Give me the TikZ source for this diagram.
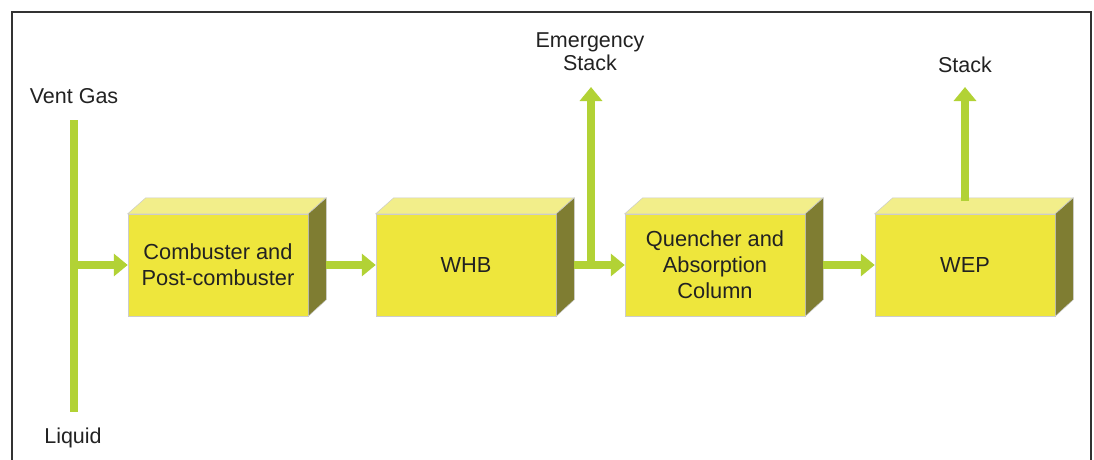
\documentclass[tikz,border=0pt]{standalone}
\usepackage{fontspec}
\setmainfont{Liberation Sans}
\usetikzlibrary{arrows.meta,calc}
\definecolor{pipe}{HTML}{B2D235}
\definecolor{boxfront}{HTML}{EEE63C}
\definecolor{boxtop}{HTML}{F2EE8A}
\definecolor{boxside}{HTML}{7F7D32}
\definecolor{ink}{HTML}{222222}
\definecolor{frame}{HTML}{333333}

% a process unit drawn as a block: front face node plus top and side faces
\newcommand\drawunit[3]{%
  \node[unit] (#1) at (#2) {#3};
  \filldraw[fill=boxtop, draw=black!20, line width=0.5pt]
    (#1.north west) -- ++(18,-16) -- ++(180,0) -- (#1.north east) -- cycle;
  \filldraw[fill=boxside, draw=black!20, line width=0.5pt]
    (#1.north east) -- ++(18,-16) -- ++(0,102) -- (#1.south east) -- cycle;
}

\begin{document}
\begin{tikzpicture}[x=1pt,y=-1pt,
  unit/.style={rectangle, fill=boxfront, draw=black!20, line width=0.5pt,
    minimum width=180pt, minimum height=102pt, inner sep=0pt, align=center,
    font=\fontsize{21.8}{26}\selectfont, text=ink},
  flow/.style={draw=pipe, line width=8.5pt, -{Triangle[width=22pt,length=14pt]}},
  pipeline/.style={draw=pipe, line width=8.5pt},
  lbl/.style={font=\fontsize{21.5}{23}\selectfont, text=ink, align=center, inner sep=0pt}]

\useasboundingbox (0,0) rectangle (1094,460);
\fill[white] (0,0) rectangle (1094,460);
\draw[frame, line width=1.3pt] (12,460) -- (12,12) -- (1091,12) -- (1091,460);

% process units
\drawunit{b1}{218,265}{Combuster and\\Post-combuster}
\drawunit{b2}{466,265}{WHB}
\drawunit{b3}{715,265}{Quencher and\\Absorption\\Column}
\drawunit{b4}{965,265}{WEP}

% labels
\node[lbl, anchor=base] (vg) at (74,103) {Vent Gas};
\node[lbl, anchor=base] (lq) at (73,443) {Liquid};
\node[lbl, anchor=north] (es) at (590,33) {Emergency\\Stack};
\node[lbl, anchor=base] (st) at (965,72) {Stack};

% feed header
\coordinate (ftop) at (74,120);
\coordinate (fbot) at (74,412);
\coordinate (fj) at (74,265);
\draw[pipeline] (ftop) -- (fbot);
\draw[flow] (fj) -- (b1.west);

% main line
\draw[flow] ([xshift=18pt]b1.east) -- (b2.west);
\draw[flow] ([xshift=18pt]b2.east) -- (b3.west);
\draw[flow] ([xshift=18pt]b3.east) -- (b4.west);

% stacks
\coordinate (ej) at (591,265);
\coordinate (etip) at (591,87);
\draw[flow] (ej) -- (etip);
\coordinate (sbase) at (965,201);
\coordinate (stip) at (965,87);
\draw[flow] (sbase) -- (stip);
\end{tikzpicture}
\end{document}
